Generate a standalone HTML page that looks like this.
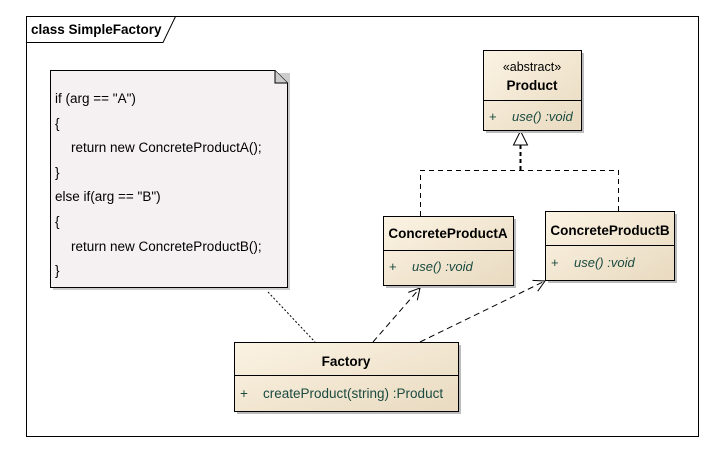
<!DOCTYPE html>
<html><head><style>
body{margin:0;background:#fff;width:726px;height:458px;overflow:hidden;font-family:"Liberation Sans",sans-serif}
</style></head><body>
<svg width="726" height="458" xmlns="http://www.w3.org/2000/svg" font-family="Liberation Sans, sans-serif">
<defs>
<linearGradient id="g" x1="0" y1="0" x2="1" y2="1"><stop offset="0" stop-color="#fbf3e3"/><stop offset="1" stop-color="#e9dac0"/></linearGradient>
<marker id="open" markerWidth="14" markerHeight="14" refX="12" refY="7" orient="auto" markerUnits="userSpaceOnUse"><path d="M1,1 L12,7 L1,13" fill="none" stroke="#000" stroke-width="1"/></marker>
</defs>
<rect x="26.5" y="16.5" width="672" height="420" fill="#fff" stroke="#000"/>
<path d="M26.5,42.5 H163 L175.5,16.5" fill="none" stroke="#000"/>
<text x="31" y="34" font-size="13.5" font-weight="bold">class SimpleFactory</text>
<!-- note -->
<path d="M53,73 H290 V290 H53Z" fill="#ccc"/>
<path d="M50.5,70.5 H275 L287.5,83 V287.5 H50.5Z" fill="#f5f1f3" stroke="#000"/>
<path d="M275,70.5 V83 H287.5" fill="#ccc" stroke="#000"/>
<g font-size="13.5" fill="#000">
<text x="55" y="103">if (arg ==  "A")</text>
<text x="55" y="128">{</text>
<text x="71" y="152">return new ConcreteProductA();</text>
<text x="55" y="177">}</text>
<text x="55" y="201">else if(arg ==  "B")</text>
<text x="55" y="226">{</text>
<text x="71" y="251">return new ConcreteProductB();</text>
<text x="55" y="275">}</text>
</g>
<!-- connectors -->
<line x1="268" y1="292" x2="315" y2="342" stroke="#000" stroke-dasharray="2,2"/>
<line x1="373" y1="342" x2="420" y2="288" stroke="#000" stroke-dasharray="6,4" marker-end="url(#open)"/>
<line x1="420" y1="342" x2="545" y2="281" stroke="#000" stroke-dasharray="6,4" marker-end="url(#open)"/>
<path d="M420.5,216 V170.5 H618.5 V211" fill="none" stroke="#000" stroke-dasharray="5,4"/>
<line x1="520.5" y1="170" x2="520.5" y2="145" stroke="#000" stroke-width="2" stroke-dasharray="4,3"/>
<path d="M520.5,131 L513.5,145 H527.5Z" fill="#fff" stroke="#000"/>
<!-- Product -->
<rect x="486" y="53" width="98" height="80" fill="#bbb"/>
<rect x="483.5" y="50.5" width="98" height="80" fill="url(#g)" stroke="#000"/>
<line x1="483.5" y1="100.5" x2="581.5" y2="100.5" stroke="#000"/>
<text x="532" y="71" font-size="12.5" text-anchor="middle">«abstract»</text>
<text x="532" y="90" font-size="13.5" font-weight="bold" text-anchor="middle">Product</text>
<text x="489" y="121" font-size="13" fill="#1a4a40">+</text>
<text x="512" y="121" font-size="13" font-style="italic" fill="#1a4a40">use()  :void</text>
<!-- CPA -->
<rect x="386" y="219" width="130" height="69" fill="#bbb"/>
<rect x="383.5" y="216.5" width="130" height="69" fill="url(#g)" stroke="#000"/>
<line x1="383.5" y1="250.5" x2="513.5" y2="250.5" stroke="#000"/>
<text x="448" y="238" font-size="13.5" font-weight="bold" text-anchor="middle">ConcreteProductA</text>
<text x="389" y="271" font-size="13" fill="#1a4a40">+</text>
<text x="412" y="271" font-size="13" font-style="italic" fill="#1a4a40">use()  :void</text>
<!-- CPB -->
<rect x="548" y="214" width="129" height="69" fill="#bbb"/>
<rect x="545.5" y="211.5" width="129" height="69" fill="url(#g)" stroke="#000"/>
<line x1="545.5" y1="245.5" x2="674.5" y2="245.5" stroke="#000"/>
<text x="610" y="235" font-size="13.5" font-weight="bold" text-anchor="middle">ConcreteProductB</text>
<text x="551" y="267" font-size="13" fill="#1a4a40">+</text>
<text x="574" y="267" font-size="13" font-style="italic" fill="#1a4a40">use()  :void</text>
<!-- Factory -->
<rect x="237" y="345" width="224" height="69" fill="#bbb"/>
<rect x="234.5" y="342.5" width="224" height="69" fill="url(#g)" stroke="#000"/>
<line x1="234.5" y1="375.5" x2="458.5" y2="375.5" stroke="#000"/>
<text x="346" y="366" font-size="13.5" font-weight="bold" text-anchor="middle">Factory</text>
<text x="240" y="398" font-size="13.5" fill="#1a4a40">+</text>
<text x="263" y="398" font-size="13.5" fill="#1a4a40">createProduct(string)  :Product</text>
</svg>
</body></html>
